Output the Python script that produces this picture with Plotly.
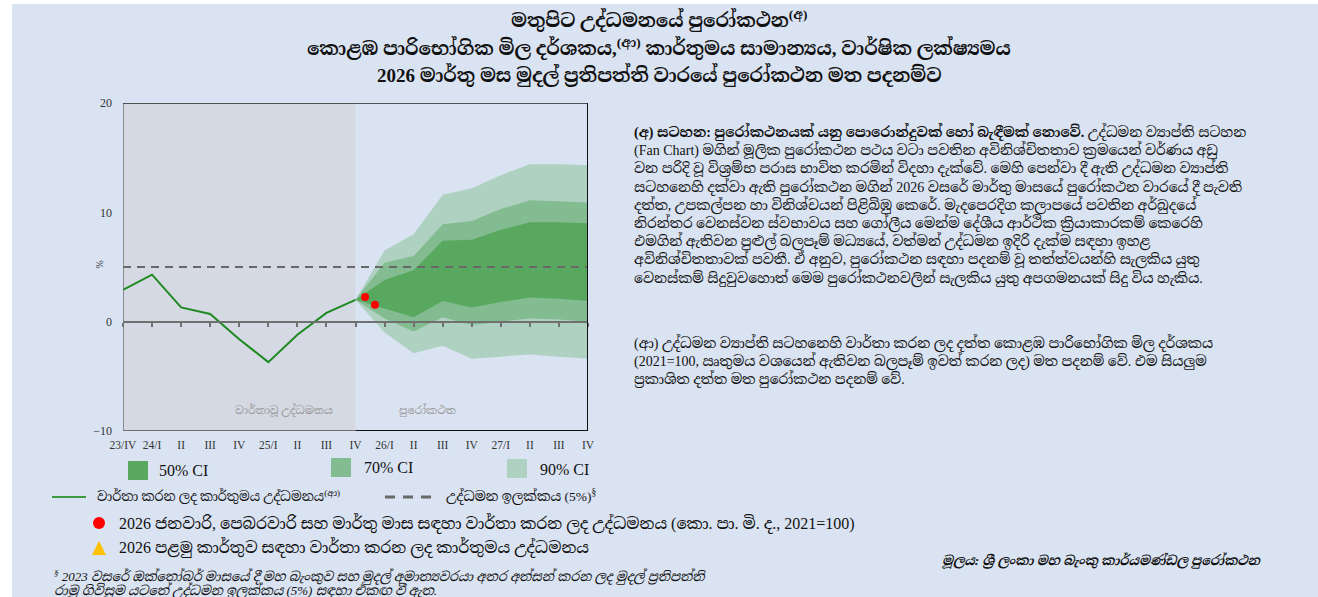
import plotly.graph_objects as go

# ---------------- data ----------------
x_labels = ["23/IV", "24/I", "II", "III", "IV", "25/I", "II", "III", "IV",
            "26/I", "II", "III", "IV", "27/I", "II", "III", "IV"]
hist_vals = [2.9, 4.3, 1.3, 0.7, -1.6, -3.7, -1.2, 0.8, 2.0]
fan_start = 8
ci50_upper = [2.0, 3.8, 4.7, 7.4, 7.5, 8.4, 9.1, 9.1, 9.0]
ci50_lower = [2.0, 1.2, 0.4, 1.9, 1.3, 1.8, 2.2, 2.1, 1.9]
ci70_upper = [2.0, 5.4, 6.0, 8.9, 9.2, 10.3, 11.1, 11.0, 10.9]
ci70_lower = [2.0, 0.3, -0.9, 0.4, -0.3, 0.0, 0.3, 0.2, 0.0]
ci90_upper = [2.0, 6.5, 8.0, 11.6, 12.2, 13.4, 14.4, 14.4, 14.3]
ci90_lower = [2.0, -1.0, -2.9, -2.2, -3.4, -3.2, -3.0, -3.2, -3.4]
monthly_pos = [8.33, 8.67]
monthly_vals = [2.25, 1.55]
target = 5
y_ticks = [-10, 0, 10, 20]

# ---------------- style ----------------
BG = "#dae3f2"
HIST_BG = "#d5d9e3"
C50 = "#58a85f"
C70 = "#83bc90"
C90 = "#afd1c1"
LINE_G = "#1f8a22"
SERIF = "Liberation Serif, 'Noto Serif Sinhala', 'Noto Sans Sinhala', serif"

W, H = 1318, 597
PL, PR, PT, PB = 123, 588, 103, 431   # plot area in page pixels


def px(x):
    return (x - PL) / (PR - PL)


def py(y):
    return (PB - y) / (PB - PT)


hist_x = list(range(len(hist_vals)))
fan_x = list(range(fan_start, fan_start + len(ci50_upper)))

fig = go.Figure()


def band(upper, lower, color, name):
    fig.add_trace(go.Scatter(
        x=fan_x + fan_x[::-1], y=upper + lower[::-1], fill="toself",
        fillcolor=color, line=dict(width=0), mode="lines", name=name,
        hoverinfo="skip", showlegend=False))


band(ci90_upper, ci90_lower, C90, "90% CI")
band(ci70_upper, ci70_lower, C70, "70% CI")
band(ci50_upper, ci50_lower, C50, "50% CI")

fig.add_trace(go.Scatter(x=hist_x, y=hist_vals, mode="lines",
                         line=dict(color=LINE_G, width=2), showlegend=False))
fig.add_trace(go.Scatter(x=monthly_pos, y=monthly_vals, mode="markers",
                         marker=dict(color="#ff0000", size=8), showlegend=False))
# trace bound to the second x axis (zero line with ticks)
fig.add_trace(go.Scatter(x=[0, 16], y=[0, 0], xaxis="x2", mode="lines",
                         line=dict(width=0), hoverinfo="skip", showlegend=False))

n = len(x_labels) - 1
shapes = [
    dict(type="rect", xref="x", yref="y", x0=0, x1=fan_start, y0=-10, y1=20,
         fillcolor=HIST_BG, line=dict(width=0), layer="below"),
    dict(type="line", xref="x", yref="y", x0=0, x1=n, y0=target, y1=target,
         line=dict(color="#686868", width=2, dash="8px,6px"), layer="above"),
    dict(type="line", xref="x", yref="y", x0=0, x1=0, y0=-10, y1=20,
         line=dict(color="#707070", width=1.5), layer="above"),
    dict(type="line", xref="x", yref="y", x0=0, x1=n, y0=20, y1=20,
         line=dict(color="#222222", width=1.5), layer="above"),
    dict(type="line", xref="x", yref="y", x0=n, x1=n, y0=-10, y1=20,
         line=dict(color="#111111", width=2), layer="above"),
    dict(type="line", xref="x", yref="y", x0=0, x1=fan_start, y0=-10, y1=-10,
         line=dict(color="#707070", width=2), layer="above"),
    dict(type="line", xref="x", yref="y", x0=fan_start, x1=n, y0=-10, y1=-10,
         line=dict(color="#111111", width=2), layer="above"),
    # white page edge (left and top)
    dict(type="rect", xref="paper", yref="paper", x0=px(0), x1=px(12), y0=py(H), y1=py(0),
         fillcolor="white", line=dict(width=0), layer="above"),
    dict(type="rect", xref="paper", yref="paper", x0=px(0), x1=px(W), y0=py(4), y1=py(0),
         fillcolor="white", line=dict(width=0), layer="above"),
]

for (x0, y0, c) in [(128, 461, C50), (331, 458, C70), (507, 459, C90)]:
    shapes.append(dict(type="rect", xref="paper", yref="paper",
                       x0=px(x0), x1=px(x0 + 20), y0=py(y0 + 19), y1=py(y0),
                       fillcolor=c, line=dict(width=0)))
shapes.append(dict(type="line", xref="paper", yref="paper", x0=px(52), x1=px(86),
                   y0=py(497), y1=py(497), line=dict(color="#3d9a40", width=2)))
shapes.append(dict(type="line", xref="paper", yref="paper", x0=px(385), x1=px(431),
                   y0=py(497), y1=py(497),
                   line=dict(color="#686868", width=3, dash="10px,8px")))
shapes.append(dict(type="circle", xref="paper", yref="paper",
                   x0=px(93), x1=px(105), y0=py(529), y1=py(517),
                   fillcolor="#ff0000", line=dict(width=0)))
shapes.append(dict(type="path", xref="paper", yref="paper",
                   path="M {} {} L {} {} L {} {} Z".format(px(92), py(555), px(106), py(555), px(99), py(541)),
                   fillcolor="#ffc000", line=dict(width=0)))

ann = []


def text(x, y, s, size, xanchor="left", color="#111111", family=SERIF, yanchor="middle"):
    ann.append(dict(x=px(x), y=py(y), xref="paper", yref="paper", text=s,
                    showarrow=False, xanchor=xanchor, yanchor=yanchor, align="left",
                    font=dict(size=size, color=color, family=family)))


# title
text(659, 19, "<b>මතුපිට උද්ධමනයේ පුරෝකථන<sup>(අ)</sup></b>", 19, "center")
text(659, 47, "<b>කොළඹ පාරිභෝගික මිල දර්ශකය,<sup>(ආ)</sup> කාර්තුමය සාමාන්‍යය, වාර්ෂික ලක්ෂ්‍යමය</b>", 19, "center")
text(659, 75, "<b>2026 මාර්තු මස මුදල් ප්‍රතිපත්ති වාරයේ පුරෝකථන මත පදනම්ව</b>", 19, "center")

# in-plot labels
text(284, 410, "වාර්තාවූ උද්ධමනය", 11, "center", "#9a9a9a")
text(427, 410, "පුරෝකථන", 11, "center", "#9a9a9a")
ann.append(dict(x=px(91), y=py(265), xref="paper", yref="paper", text="%",
                showarrow=False, textangle=-90, font=dict(size=10, color="#333", family=SERIF)))

# legend texts
text(157, 470, "50% CI", 16)
text(362, 467, "70% CI", 16)
text(538, 469, "90% CI", 16)
text(95, 496, "වාර්තා කරන ලද කාර්තුමය උද්ධමනය<sup>(ආ)</sup>", 13)
text(444, 496, "උද්ධමන ඉලක්කය (5%)<sup>§</sup>", 13.5)
text(117, 524, "2026 ජනවාරි, පෙබරවාරි සහ මාර්තු මාස සඳහා වාර්තා කරන ලද උද්ධමනය (කො. පා. මි. ද., 2021=100)", 16)
text(117, 548, "2026 පළමු කාර්තුව සඳහා වාර්තා කරන ලද කාර්තුමය උද්ධමනය", 16)
text(52, 576, "<i><sup>§</sup> 2023 වසරේ ඔක්තෝබර් මාසයේ දී මහ බැංකුව සහ මුදල් අමාත්‍යවරයා අතර අත්සන් කරන ලද මුදල් ප්‍රතිපත්ති</i>", 13)
text(52, 590, "<i>රාමු ගිවිසුම යටතේ උද්ධමන ඉලක්කය (5%) සඳහා එකඟ වී ඇත.</i>", 13)
text(940, 560, "<b><i>මූලය: ශ්‍රී ලංකා මහ බැංකු කාර්යමණ්ඩල පුරෝකථන</i></b>", 13)

para1 = ("<b>(අ) සටහන: පුරෝකථනයක් යනු පොරොන්දුවක් හෝ බැඳීමක් නොවේ.</b> උද්ධමන ව්‍යාප්ති සටහන<br>"
         "(Fan Chart) මගින් මූලික පුරෝකථන පථය වටා පවතින අවිනිශ්චිතතාව ක්‍රමයෙන් වර්ණය අඩු<br>"
         "වන පරිදි වූ විශ්‍රම්භ පරාස භාවිත කරමින් විදහා දැක්වේ. මෙහි පෙන්වා දී ඇති උද්ධමන ව්‍යාප්ති<br>"
         "සටහනෙහි දක්වා ඇති පුරෝකථන මගින් 2026 වසරේ මාර්තු මාසයේ පුරෝකථන වාරයේ දී පැවති<br>"
         "දත්ත, උපකල්පන හා විනිශ්චයන් පිළිබිඹු කෙරේ. මැදපෙරදිග කලාපයේ පවතින අර්බුදයේ<br>"
         "නිරන්තර වෙනස්වන ස්වභාවය සහ ගෝලීය මෙන්ම දේශීය ආර්ථික ක්‍රියාකාරකම් කෙරෙහි<br>"
         "එමගින් ඇතිවන පුළුල් බලපෑම් මධ්‍යයේ, වත්මන් උද්ධමන ඉදිරි දැක්ම සඳහා ඉහළ<br>"
         "අවිනිශ්චිතතාවක් පවතී. ඒ අනුව, පුරෝකථන සඳහා පදනම් වූ තත්ත්වයන්හි සැලකිය යුතු<br>"
         "වෙනස්කම් සිදුවුවහොත් මෙම පුරෝකථනවලින් සැලකිය යුතු අපගමනයක් සිදු විය හැකිය.")
para2 = ("(ආ) උද්ධමන ව්‍යාප්ති සටහනෙහි වාර්තා කරන ලද දත්ත කොළඹ පාරිභෝගික මිල දර්ශකය<br>"
         "(2021=100, ඍතුමය වශයෙන් ඇතිවන බලපෑම් ඉවත් කරන ලද) මත පදනම් වේ. එම සියලුම<br>"
         "ප්‍රකාශිත දත්ත මත පුරෝකථන පදනම් වේ.")
text(632, 121, para1, 14, yanchor="top")
text(632, 332, para2, 14, yanchor="top")

fig.update_layout(
    width=W, height=H,
    margin=dict(l=PL, r=W - PR, t=PT, b=H - PB, pad=0),
    paper_bgcolor=BG, plot_bgcolor=BG,
    showlegend=False,
    shapes=shapes, annotations=ann,
    xaxis=dict(range=[0, n], tickmode="array", tickvals=list(range(len(x_labels))),
               ticktext=x_labels, showgrid=False, zeroline=False, showline=False,
               ticks="", ticklabelstandoff=5,
               tickfont=dict(family=SERIF, size=11.5, color="#333333")),
    xaxis2=dict(range=[0, n], overlaying="x", anchor="free", position=1 / 3,
                side="bottom", showline=True, linecolor="#707070", linewidth=2,
                tickmode="array", tickvals=list(range(len(x_labels))), ticks="outside",
                ticklen=4, tickcolor="#707070", tickwidth=1.5, showticklabels=False,
                showgrid=False, zeroline=False),
    yaxis=dict(range=[-10, 20], tickvals=y_ticks, showgrid=False, zeroline=False,
               showline=False, ticks="", ticklabelstandoff=10,
               tickfont=dict(family=SERIF, size=12, color="#333333")),
)

fig.write_html("out.html", config={"displayModeBar": False},
               post_script="document.body.style.margin='0';document.body.style.overflow='hidden';")
